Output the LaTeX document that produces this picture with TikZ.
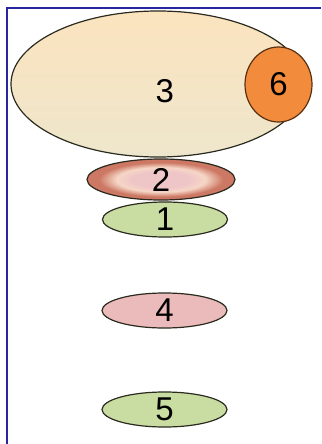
\documentclass[tikz,border=0pt]{standalone}
\usepackage{fontspec}
\setmainfont{Liberation Sans}
\usetikzlibrary{shapes.geometric}
\definecolor{frameblue}{HTML}{2626A0}
\definecolor{outline}{HTML}{2A2A1E}
\definecolor{creamtop}{HTML}{FBE3BE}
\definecolor{creammid}{HTML}{F7EBD2}
\definecolor{creambottom}{HTML}{EEE6CC}
\definecolor{orangefill}{HTML}{F28B3B}
\definecolor{orangeline}{HTML}{5A3010}
\definecolor{greenfill}{HTML}{C9DDA3}
\definecolor{pinkfill}{HTML}{EBBABA}
\definecolor{ringpink}{HTML}{EFC6C8}
\definecolor{ringlight}{HTML}{F6D6C6}
\definecolor{ringedge}{HTML}{CC7864}
\pgfdeclareradialshading{ringshade}{\pgfpoint{0bp}{0bp}}{color(0bp)=(ringpink); color(10bp)=(ringpink); color(15bp)=(ringlight); color(21bp)=(ringedge); color(50bp)=(ringedge)}

\begin{document}
\begin{tikzpicture}[
            x=1pt, y=-1pt,
            blob/.style={ellipse, draw=outline, line width=1.2pt, inner sep=0pt, font=\fontsize{33pt}{33pt}\selectfont},
            smallblob/.style={blob, minimum width=125pt, minimum height=35pt},
            greenblob/.style={smallblob, fill=greenfill},
            pinkblob/.style={smallblob, fill=pinkfill}
        ]
        \useasboundingbox (0,0) rectangle (321,444);
        % Frame lines on top and left
        \draw[frameblue, line width=2pt] (7,444) -- (7,8) -- (321,8);

        % Define the ellipses as nodes
        \node[blob, minimum width=294pt, minimum height=146pt, top color=creamtop, middle color=creammid, bottom color=creambottom,
              text height=37pt, text depth=0pt, text width=32pt, align=right] (three) at (158,84) {3};
        \node[blob, draw=orangeline, fill=orangefill, minimum width=67pt, minimum height=75pt] (six) at (278.5,84.5) {6};
        \node[blob, shading=ringshade, minimum width=148pt, minimum height=41pt] (two) at (161,179.5) {2};
        \node[greenblob] (one) at (165,219.5) {1};
        \node[pinkblob] (four) at (164.5,310.5) {4};
        \node[greenblob] (five) at (164.5,409.5) {5};
    \end{tikzpicture}
\end{document}
